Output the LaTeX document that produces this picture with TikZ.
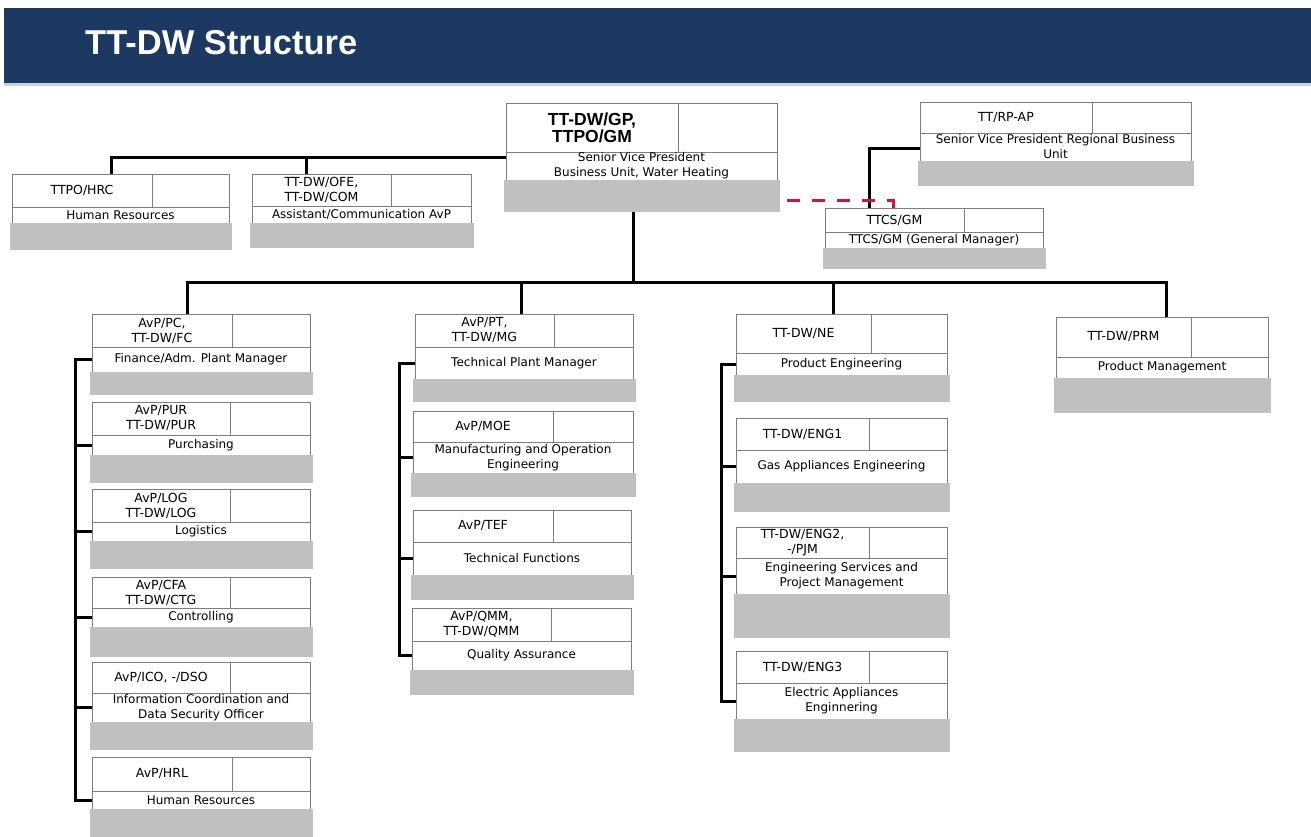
\documentclass[tikz,border=0pt]{standalone}
\usepackage{fontspec}
\newfontfamily\boxfont{DejaVu Sans}
\newfontfamily\headfont{Liberation Sans}

\definecolor{banner}{RGB}{27,57,97}
\definecolor{bannerrule}{RGB}{200,210,222}
\definecolor{shadebar}{RGB}{192,192,192}
\definecolor{cellrule}{RGB}{125,125,125}
\definecolor{dashred}{RGB}{205,20,60}

\tikzset{
  cell/.style={rectangle, draw=cellrule, line width=0.9pt, fill=white,
    inner sep=0pt, outer sep=0pt, anchor=north west},
  basebar/.style={rectangle, fill=shadebar, draw=none,
    inner sep=0pt, outer sep=0pt, anchor=north west},
  rule/.style={draw=cellrule, line width=0.9pt},
  codetext/.style={font=\boxfont\fontsize{12.5}{15}\selectfont, align=center,
    inner sep=0pt, text=black},
  titletext/.style={font=\boxfont\fontsize{12}{15}\selectfont, align=center,
    inner sep=0pt, text=black},
  bigcode/.style={font=\headfont\bfseries\fontsize{17.5}{17}\selectfont,
    align=center, inner sep=0pt, text=black},
  conn/.style={draw=black, line width=3pt},
  dottedlink/.style={draw=dashred, line width=3pt, dash pattern=on 13pt off 12pt}
}

% #1 name, #2 left x, #3 right x, #4 divider x, #5 top y,
% #6 divider y, #7 bottom of white part, #8 bottom of grey bar
\newcommand\orgunit[8]{%
  \node[cell, minimum width={#3-#2}, minimum height={#7-#5}] (#1) at (#2,#5) {};
  \draw[rule] (#2,#6) -- (#3,#6) (#4,#5) -- (#4,#6);
  \node[basebar, minimum width={#3-#2+5}, minimum height={#8-#7}] (#1-base) at ({#2-2.5},#7) {};
  \coordinate (#1-code) at ({(#2+#4)/2},{(#5+#6)/2});
  \coordinate (#1-title) at ({(#2+#3)/2},{(#6+#7)/2});
  \coordinate (#1-tick) at (#2,{(#6+#7)/2});
}
% #1 name, #2 code, #3 title
\newcommand\orglabels[3]{%
  \node[codetext] (#1-c) at (#1-code) {#2};
  \node[titletext] (#1-t) at (#1-title) {#3};
}

\begin{document}
\begin{tikzpicture}[x=1pt,y=-1pt]
\useasboundingbox (0,0) rectangle (1311,837);

% heading band
\node[rectangle, fill=banner, inner sep=0pt, outer sep=0pt, anchor=north west,
      minimum width=1307pt, minimum height=75pt] (band) at (4,8) {};
\fill[bannerrule] (4,83) rectangle (1311,86);
\node[font=\headfont\bfseries\fontsize{34.5}{34}\selectfont, text=white,
      anchor=base west, inner sep=0pt] (heading) at (85,55) {TT-DW Structure};

% top level
\orgunit{gp}{506}{777}{678}{103}{152}{180}{212}
\node[bigcode] (gp-c) at (gp-code) {TT-DW/GP,\\TTPO/GM};
\node[titletext] (gp-t) at (gp-title) {Senior Vice President\\Business Unit, Water Heating};

\orgunit{hrc}{12}{229}{152}{174}{207}{223}{250}
\orglabels{hrc}{TTPO/HRC}{Human Resources}
\orgunit{ofe}{252}{471}{391}{174}{206}{223}{248}
\orglabels{ofe}{TT-DW/OFE,\\TT-DW/COM}{Assistant/Communication AvP}

\orgunit{rp}{920}{1191}{1092}{102}{133}{161}{186}
\orglabels{rp}{TT/RP-AP}{Senior Vice President Regional Business\\Unit}
\orgunit{tcs}{825}{1043}{964}{208}{232}{248}{269}
\orglabels{tcs}{TTCS/GM}{TTCS/GM (General Manager)}

% finance column
\orgunit{pc}{92}{310}{232}{314}{347}{372}{395}
\orglabels{pc}{AvP/PC,\\TT-DW/FC}{Finance/Adm. Plant Manager}
\orgunit{pur}{92}{310}{230}{402}{435}{455}{483}
\orglabels{pur}{AvP/PUR\\TT-DW/PUR}{Purchasing}
\orgunit{log}{92}{310}{230}{489}{522}{541}{569}
\orglabels{log}{AvP/LOG\\TT-DW/LOG}{Logistics}
\orgunit{cfa}{92}{310}{230}{577}{608}{627}{657}
\orglabels{cfa}{AvP/CFA\\TT-DW/CTG}{Controlling}
\orgunit{ico}{92}{310}{230}{662}{693}{722}{750}
\orglabels{ico}{AvP/ICO, -/DSO}{Information Coordination and\\Data Security Officer}
\orgunit{hrl}{92}{310}{232}{757}{791}{809}{840}
\orglabels{hrl}{AvP/HRL}{Human Resources}

% technical column
\orgunit{pt}{415}{633}{554}{314}{347}{379}{402}
\orglabels{pt}{AvP/PT,\\TT-DW/MG}{Technical Plant Manager}
\orgunit{moe}{413}{633}{553}{411}{442}{473}{497}
\orglabels{moe}{AvP/MOE}{Manufacturing and Operation\\Engineering}
\orgunit{tef}{413}{631}{553}{510}{542}{575}{600}
\orglabels{tef}{AvP/TEF}{Technical Functions}
\orgunit{qmm}{412}{631}{551}{608}{641}{670}{695}
\orglabels{qmm}{AvP/QMM,\\TT-DW/QMM}{Quality Assurance}

% engineering column
\orgunit{ne}{736}{947}{871}{314}{353}{375}{402}
\orglabels{ne}{TT-DW/NE}{Product Engineering}
\orgunit{eng1}{736}{947}{869}{418}{450}{483}{512}
\orglabels{eng1}{TT-DW/ENG1}{Gas Appliances Engineering}
\orgunit{eng2}{736}{947}{869}{527}{558}{594}{638}
\orglabels{eng2}{TT-DW/ENG2,\\-/PJM}{Engineering Services and\\Project Management}
\orgunit{eng3}{736}{947}{869}{651}{683}{719}{752}
\orglabels{eng3}{TT-DW/ENG3}{Electric Appliances\\Enginnering}

% product management
\orgunit{prm}{1056}{1268}{1191}{317}{357}{378}{413}
\orglabels{prm}{TT-DW/PRM}{Product Management}

% staff bus
\coordinate (hrcdrop) at (111,158);
\coordinate (ofedrop) at (306,158);
\draw[conn] (hrcdrop |- hrc.north) -- (hrcdrop) -- (hrcdrop -| gp.west);
\draw[conn] (ofedrop) -- (ofedrop |- ofe.north);

% main bus
\coordinate (rowL) at (187,282);
\coordinate (rowR) at (1166,282);
\coordinate (gpdrop) at (633,282);
\coordinate (ptdrop) at (521,282);
\coordinate (nedrop) at (833,282);
\draw[conn] (rowL |- pc.north) -- (rowL) -- (rowR) -- (rowR |- prm.north);
\draw[conn] (gpdrop |- gp-base.south) -- (gpdrop);
\draw[conn] (ptdrop) -- (ptdrop |- pt.north);
\draw[conn] (nedrop) -- (nedrop |- ne.north);

% regional unit and dotted reporting line
\coordinate (rpturn) at (869,149);
\draw[conn] (rpturn -| rp.west) -- (rpturn) -- (rpturn |- tcs.north);
\coordinate (dashturn) at (893,201);
\draw[dottedlink] (dashturn |- tcs.north) -- (dashturn) -- (dashturn -| gp-base.east);

% column brackets
\coordinate (lbus) at (75,0);
\draw[conn] (pc-tick) -| (lbus |- hrl-tick) -- (hrl-tick);
\foreach \u in {pur,log,cfa,ico} \draw[conn] (\u-tick) -- (\u-tick -| lbus);

\coordinate (mbus) at (399,0);
\draw[conn] (pt-tick) -| (mbus |- qmm-tick) -- (qmm-tick);
\foreach \u in {moe,tef} \draw[conn] (\u-tick) -- (\u-tick -| mbus);

\coordinate (rbus) at (721,0);
\draw[conn] (ne-tick) -| (rbus |- eng3-tick) -- (eng3-tick);
\foreach \u in {eng1,eng2} \draw[conn] (\u-tick) -- (\u-tick -| rbus);
\end{tikzpicture}
\end{document}
